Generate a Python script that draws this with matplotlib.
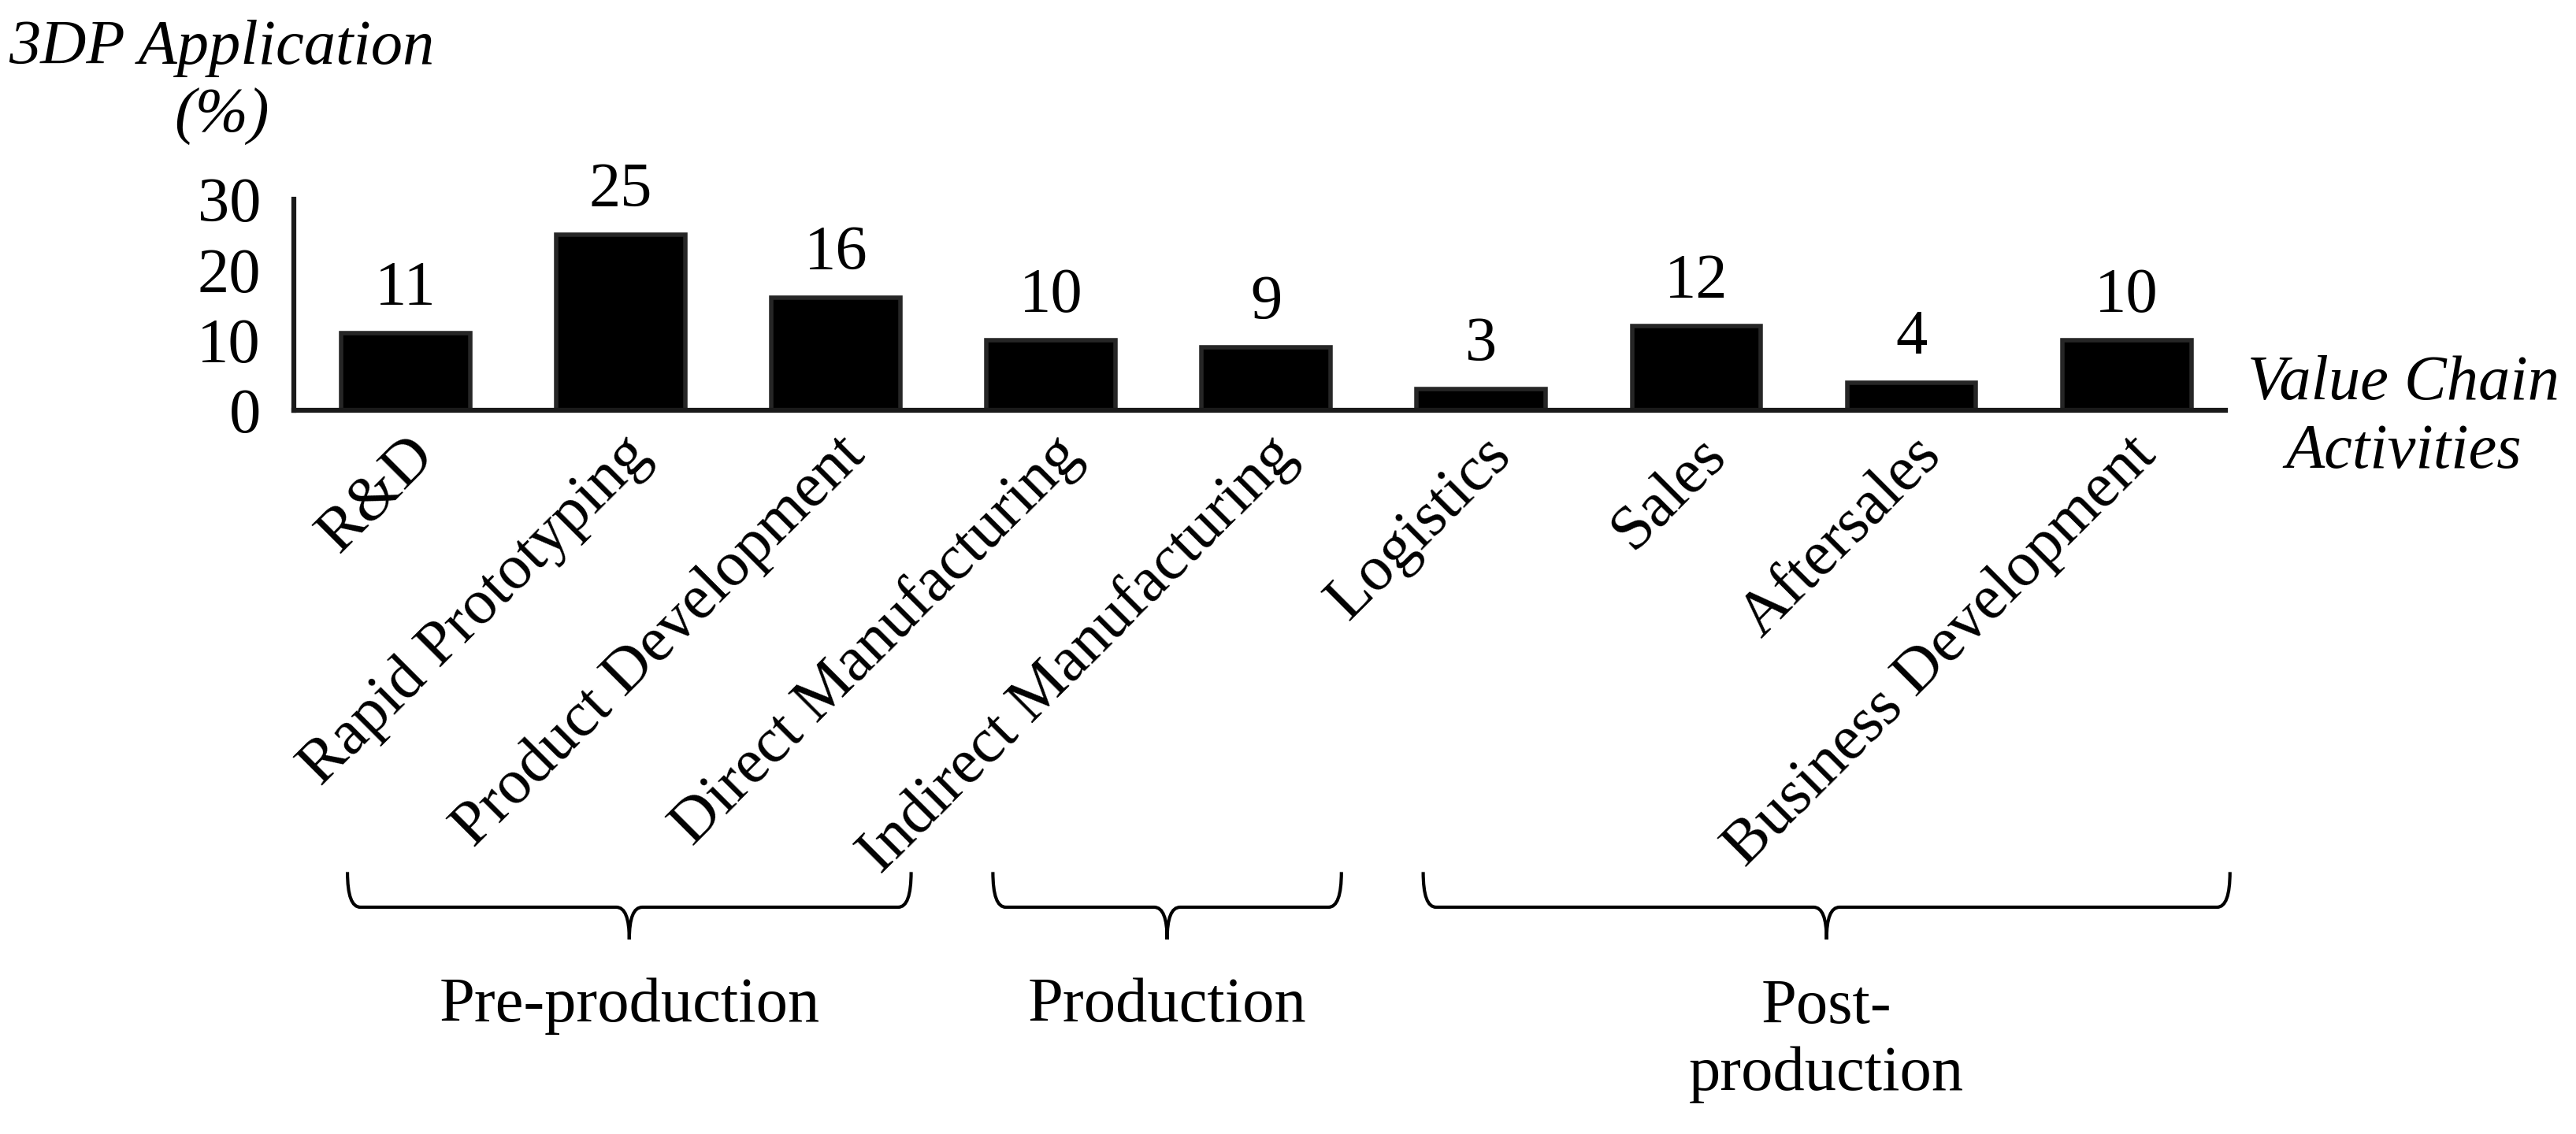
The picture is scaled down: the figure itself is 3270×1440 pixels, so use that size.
import matplotlib.pyplot as plt
import matplotlib.transforms as transforms
from matplotlib.path import Path
from matplotlib.patches import PathPatch
import numpy as np

plt.rcParams['font.family'] = ['Liberation Serif', 'DejaVu Serif']

activities = ['R&D', 'Rapid Prototyping', 'Product Development',
              'Direct Manufacturing', 'Indirect Manufacturing', 'Logistics',
              'Sales', 'Aftersales', 'Business Development']
application = [11, 25, 16, 10, 9, 3, 12, 4, 10]

# stage name, first and last activity index
stages = [('Pre-production', 0, 2),
          ('Production', 3, 4),
          ('Post-\nproduction', 5, 8)]

fs = 58

fig = plt.figure(figsize=(32.7, 14.4), dpi=100)
ax = fig.add_axes([0.114, 0.638, 0.75, 0.186])

x = np.arange(len(activities))
bars = ax.bar(x, application, 0.6, color='black', edgecolor='#262626', linewidth=4)

ax.set_xlim(-0.52, 8.46)
ax.set_ylim(0, 30)
ax.set_yticks([0, 10, 20, 30])
ax.tick_params(axis='y', length=0, pad=30, labelsize=fs)
ax.set_xticks(x)
ax.set_xticklabels(activities, rotation=45, ha='right', va='top',
                   rotation_mode='anchor', fontsize=fs)
ax.tick_params(axis='x', length=0, pad=14)

for s in ['top', 'right']:
    ax.spines[s].set_visible(False)
for s in ['left', 'bottom']:
    ax.spines[s].set_linewidth(4.5)
    ax.spines[s].set_color('#1a1a1a')


def autolabel(rects):
    for rect in rects:
        h = rect.get_height()
        ax.annotate('%d' % h, (rect.get_x() + rect.get_width() / 2., h),
                    xytext=(0, 14), textcoords='offset points',
                    ha='center', va='bottom', fontsize=fs)


autolabel(bars)

fig.text(0.086, 0.927, '3DP Application\n(%)', ha='center', va='center',
         style='italic', fontsize=fs, linespacing=1.25)
fig.text(0.933, 0.631, 'Value Chain\nActivities', ha='center', va='center',
         style='italic', fontsize=fs, linespacing=1.25)

# curly braces under the groups
trans = transforms.blended_transform_factory(ax.transData, fig.transFigure)
y_top, y_mid, y_tip = 0.231, 0.200, 0.1715
dx = 0.06
for name, i0, i1 in stages:
    x0 = i0 - 0.27
    x1 = i1 + 0.35 if i1 < 8 else i1 + 0.48
    xc = (x0 + x1) / 2
    verts = [(x0, y_top), (x0, y_mid), (x0 + dx, y_mid),
             (xc - dx, y_mid), (xc, y_mid), (xc, y_tip),
             (xc, y_mid), (xc + dx, y_mid),
             (x1 - dx, y_mid), (x1, y_mid), (x1, y_top)]
    codes = [Path.MOVETO, Path.CURVE3, Path.CURVE3,
             Path.LINETO, Path.CURVE3, Path.CURVE3,
             Path.CURVE3, Path.CURVE3,
             Path.LINETO, Path.CURVE3, Path.CURVE3]
    patch = PathPatch(Path(verts, codes), transform=trans, facecolor='none',
                      edgecolor='black', linewidth=3, clip_on=False)
    ax.add_artist(patch)
    ax.text(xc, 0.113 if '\n' not in name else 0.082, name, transform=trans,
            ha='center', va='center', fontsize=fs, linespacing=1.2)

fig.savefig('out.png', dpi=100, facecolor='white')
